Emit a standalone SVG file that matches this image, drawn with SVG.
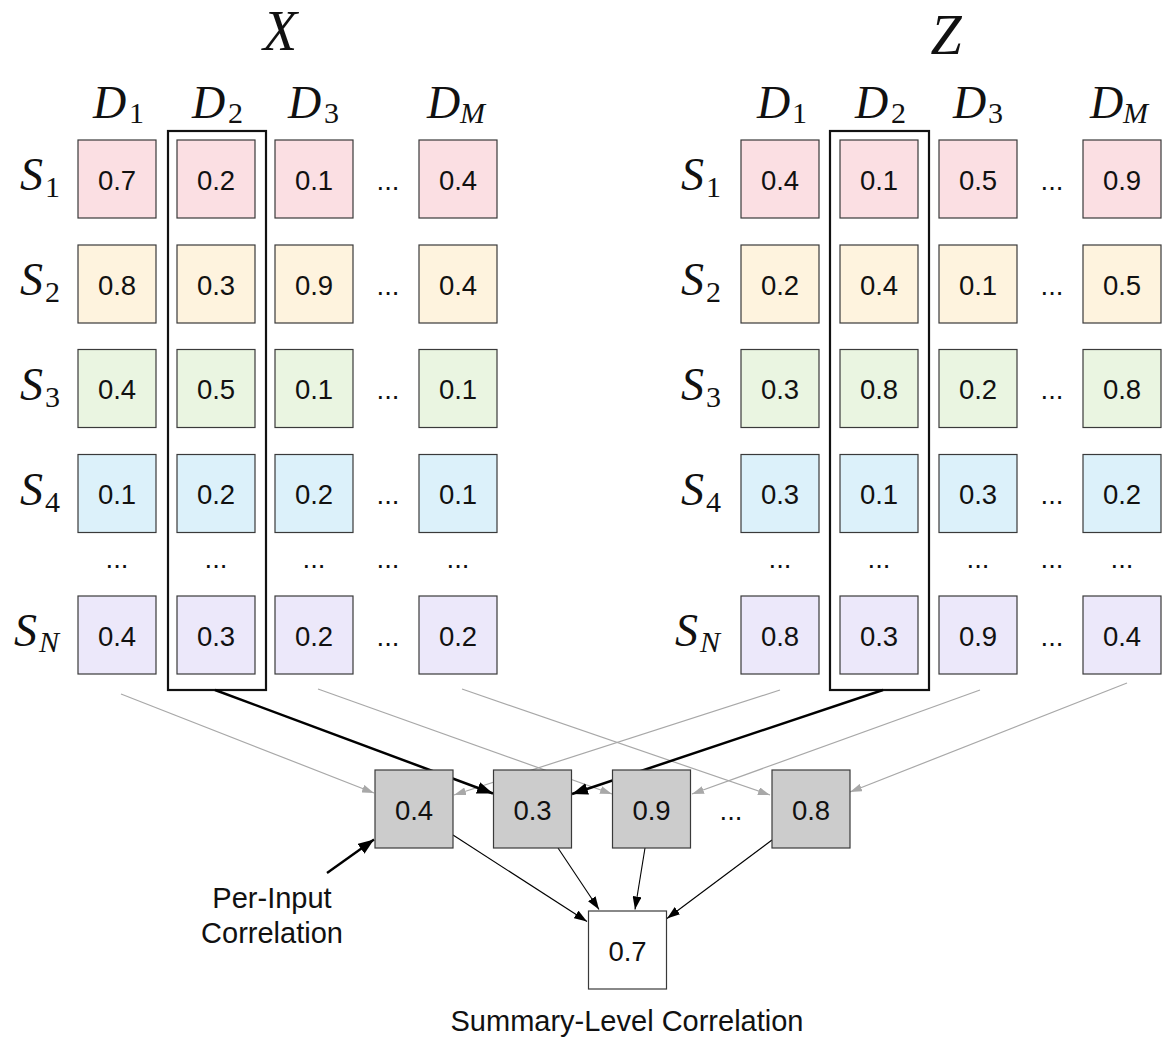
<svg xmlns="http://www.w3.org/2000/svg" width="1173" height="1046" viewBox="0 0 1173 1046">
<style>
.c{stroke:#3a3a3a;stroke-width:1.2}
.r1{fill:#fbdfe3}.r2{fill:#fef3de}.r3{fill:#eaf5e1}.r4{fill:#dcf1fa}.rn{fill:#ece8fa}
.g{fill:#cccccc;stroke:#3a3a3a;stroke-width:1.2}
.w{fill:#ffffff;stroke:#3a3a3a;stroke-width:1.2}
.n{font-family:"Liberation Sans",Arial,sans-serif;font-size:27.5px;fill:#111;text-anchor:middle}
.lbl{font-family:"Liberation Sans",Arial,sans-serif;font-size:29px;fill:#111;text-anchor:middle}
.m{font-family:"Liberation Serif","Times New Roman",serif;font-style:italic;font-size:46px;fill:#111}
.big{font-family:"Liberation Serif","Times New Roman",serif;font-style:italic;font-size:56px;fill:#111;text-anchor:middle}
.sub{font-style:normal;font-size:30px}
.subi{font-style:italic;font-size:30px}
.hl{fill:none;stroke:#111;stroke-width:2.2}
.ga{stroke:#a8a8a8;stroke-width:1.2;fill:none}
.ba{stroke:#000;stroke-width:2.5;fill:none}
.ta{stroke:#000;stroke-width:1.1;fill:none}
.pa{stroke:#000;stroke-width:2.4;fill:none}
</style>
<defs>
<marker id="hg" markerUnits="userSpaceOnUse" markerWidth="12" markerHeight="8" refX="12" refY="4" orient="auto"><path d="M0,0 L12,4 L0,8 z" fill="#a8a8a8"/></marker>
<marker id="hb" markerUnits="userSpaceOnUse" markerWidth="17" markerHeight="12" refX="16" refY="6" orient="auto"><path d="M0,0 L16,6 L0,12 z" fill="#000"/></marker>
<marker id="ht" markerUnits="userSpaceOnUse" markerWidth="13" markerHeight="9" refX="13" refY="4.5" orient="auto"><path d="M0,0 L13,4.5 L0,9 z" fill="#000"/></marker>
</defs>
<rect width="1173" height="1046" fill="#ffffff"/>

<!-- Titles -->
<g id="title-x"><text class="big" x="280" y="50">X</text></g>
<g id="title-z"><text class="big" x="946" y="54">Z</text></g>

<!-- Column labels X -->
<g id="x-col-labels">
<text class="m" x="93" y="118">D<tspan class="sub" x="129" y="123">1</tspan></text>
<text class="m" x="192" y="118">D<tspan class="sub" x="228" y="123">2</tspan></text>
<text class="m" x="288" y="118">D<tspan class="sub" x="324" y="123">3</tspan></text>
<text class="m" x="427" y="118">D<tspan class="subi" x="460" y="123">M</tspan></text>
</g>
<g id="z-col-labels">
<text class="m" x="757" y="118">D<tspan class="sub" x="792" y="123">1</tspan></text>
<text class="m" x="855" y="118">D<tspan class="sub" x="891" y="123">2</tspan></text>
<text class="m" x="953" y="118">D<tspan class="sub" x="988" y="123">3</tspan></text>
<text class="m" x="1090" y="118">D<tspan class="subi" x="1123" y="123">M</tspan></text>
</g>

<!-- Row labels -->
<g id="x-row-labels">
<text class="m" x="20" y="190">S<tspan class="sub" x="45" y="197">1</tspan></text>
<text class="m" x="20" y="295">S<tspan class="sub" x="45" y="302">2</tspan></text>
<text class="m" x="20" y="399.5">S<tspan class="sub" x="45" y="406.5">3</tspan></text>
<text class="m" x="20" y="504.5">S<tspan class="sub" x="45" y="511.5">4</tspan></text>
<text class="m" x="14" y="646">S<tspan class="subi" x="39" y="652">N</tspan></text>
</g>
<g id="z-row-labels">
<text class="m" x="681" y="190">S<tspan class="sub" x="706" y="197">1</tspan></text>
<text class="m" x="681" y="295">S<tspan class="sub" x="706" y="302">2</tspan></text>
<text class="m" x="681" y="399.5">S<tspan class="sub" x="706" y="406.5">3</tspan></text>
<text class="m" x="681" y="504.5">S<tspan class="sub" x="706" y="511.5">4</tspan></text>
<text class="m" x="675" y="646">S<tspan class="subi" x="700" y="652">N</tspan></text>
</g>

<!-- X matrix -->
<g id="x-matrix">
<g id="x-s1-d1"><rect class="c r1" x="78" y="140" width="78" height="78"/><text class="n" x="117" y="189.5">0.7</text></g>
<g id="x-s1-d2"><rect class="c r1" x="177" y="140" width="78" height="78"/><text class="n" x="216" y="189.5">0.2</text></g>
<g id="x-s1-d3"><rect class="c r1" x="275" y="140" width="78" height="78"/><text class="n" x="314" y="189.5">0.1</text></g>
<g id="x-s1-dm"><rect class="c r1" x="419" y="140" width="78" height="78"/><text class="n" x="458" y="189.5">0.4</text></g>
<g id="x-s2-d1"><rect class="c r2" x="78" y="245" width="78" height="78"/><text class="n" x="117" y="294.5">0.8</text></g>
<g id="x-s2-d2"><rect class="c r2" x="177" y="245" width="78" height="78"/><text class="n" x="216" y="294.5">0.3</text></g>
<g id="x-s2-d3"><rect class="c r2" x="275" y="245" width="78" height="78"/><text class="n" x="314" y="294.5">0.9</text></g>
<g id="x-s2-dm"><rect class="c r2" x="419" y="245" width="78" height="78"/><text class="n" x="458" y="294.5">0.4</text></g>
<g id="x-s3-d1"><rect class="c r3" x="78" y="349.5" width="78" height="78"/><text class="n" x="117" y="399">0.4</text></g>
<g id="x-s3-d2"><rect class="c r3" x="177" y="349.5" width="78" height="78"/><text class="n" x="216" y="399">0.5</text></g>
<g id="x-s3-d3"><rect class="c r3" x="275" y="349.5" width="78" height="78"/><text class="n" x="314" y="399">0.1</text></g>
<g id="x-s3-dm"><rect class="c r3" x="419" y="349.5" width="78" height="78"/><text class="n" x="458" y="399">0.1</text></g>
<g id="x-s4-d1"><rect class="c r4" x="78" y="454.5" width="78" height="78"/><text class="n" x="117" y="504">0.1</text></g>
<g id="x-s4-d2"><rect class="c r4" x="177" y="454.5" width="78" height="78"/><text class="n" x="216" y="504">0.2</text></g>
<g id="x-s4-d3"><rect class="c r4" x="275" y="454.5" width="78" height="78"/><text class="n" x="314" y="504">0.2</text></g>
<g id="x-s4-dm"><rect class="c r4" x="419" y="454.5" width="78" height="78"/><text class="n" x="458" y="504">0.1</text></g>
<g id="x-sn-d1"><rect class="c rn" x="78" y="596" width="78" height="78"/><text class="n" x="117" y="645.5">0.4</text></g>
<g id="x-sn-d2"><rect class="c rn" x="177" y="596" width="78" height="78"/><text class="n" x="216" y="645.5">0.3</text></g>
<g id="x-sn-d3"><rect class="c rn" x="275" y="596" width="78" height="78"/><text class="n" x="314" y="645.5">0.2</text></g>
<g id="x-sn-dm"><rect class="c rn" x="419" y="596" width="78" height="78"/><text class="n" x="458" y="645.5">0.2</text></g>
<g id="x-dots">
<text class="n" x="388" y="189.5">...</text><text class="n" x="388" y="294.5">...</text><text class="n" x="388" y="399">...</text><text class="n" x="388" y="504">...</text><text class="n" x="388" y="645.5">...</text>
<text class="n" x="117" y="568">...</text><text class="n" x="216" y="568">...</text><text class="n" x="314" y="568">...</text><text class="n" x="388" y="568">...</text><text class="n" x="458" y="568">...</text>
</g>
<rect id="x-highlight" class="hl" x="168" y="131" width="98" height="559"/>
</g>

<!-- Z matrix -->
<g id="z-matrix">
<g id="z-s1-d1"><rect class="c r1" x="741" y="140" width="78" height="78"/><text class="n" x="780" y="189.5">0.4</text></g>
<g id="z-s1-d2"><rect class="c r1" x="840" y="140" width="78" height="78"/><text class="n" x="879" y="189.5">0.1</text></g>
<g id="z-s1-d3"><rect class="c r1" x="939" y="140" width="78" height="78"/><text class="n" x="978" y="189.5">0.5</text></g>
<g id="z-s1-dm"><rect class="c r1" x="1083" y="140" width="78" height="78"/><text class="n" x="1122" y="189.5">0.9</text></g>
<g id="z-s2-d1"><rect class="c r2" x="741" y="245" width="78" height="78"/><text class="n" x="780" y="294.5">0.2</text></g>
<g id="z-s2-d2"><rect class="c r2" x="840" y="245" width="78" height="78"/><text class="n" x="879" y="294.5">0.4</text></g>
<g id="z-s2-d3"><rect class="c r2" x="939" y="245" width="78" height="78"/><text class="n" x="978" y="294.5">0.1</text></g>
<g id="z-s2-dm"><rect class="c r2" x="1083" y="245" width="78" height="78"/><text class="n" x="1122" y="294.5">0.5</text></g>
<g id="z-s3-d1"><rect class="c r3" x="741" y="349.5" width="78" height="78"/><text class="n" x="780" y="399">0.3</text></g>
<g id="z-s3-d2"><rect class="c r3" x="840" y="349.5" width="78" height="78"/><text class="n" x="879" y="399">0.8</text></g>
<g id="z-s3-d3"><rect class="c r3" x="939" y="349.5" width="78" height="78"/><text class="n" x="978" y="399">0.2</text></g>
<g id="z-s3-dm"><rect class="c r3" x="1083" y="349.5" width="78" height="78"/><text class="n" x="1122" y="399">0.8</text></g>
<g id="z-s4-d1"><rect class="c r4" x="741" y="454.5" width="78" height="78"/><text class="n" x="780" y="504">0.3</text></g>
<g id="z-s4-d2"><rect class="c r4" x="840" y="454.5" width="78" height="78"/><text class="n" x="879" y="504">0.1</text></g>
<g id="z-s4-d3"><rect class="c r4" x="939" y="454.5" width="78" height="78"/><text class="n" x="978" y="504">0.3</text></g>
<g id="z-s4-dm"><rect class="c r4" x="1083" y="454.5" width="78" height="78"/><text class="n" x="1122" y="504">0.2</text></g>
<g id="z-sn-d1"><rect class="c rn" x="741" y="596" width="78" height="78"/><text class="n" x="780" y="645.5">0.8</text></g>
<g id="z-sn-d2"><rect class="c rn" x="840" y="596" width="78" height="78"/><text class="n" x="879" y="645.5">0.3</text></g>
<g id="z-sn-d3"><rect class="c rn" x="939" y="596" width="78" height="78"/><text class="n" x="978" y="645.5">0.9</text></g>
<g id="z-sn-dm"><rect class="c rn" x="1083" y="596" width="78" height="78"/><text class="n" x="1122" y="645.5">0.4</text></g>
<g id="z-dots">
<text class="n" x="1052" y="189.5">...</text><text class="n" x="1052" y="294.5">...</text><text class="n" x="1052" y="399">...</text><text class="n" x="1052" y="504">...</text><text class="n" x="1052" y="645.5">...</text>
<text class="n" x="780" y="568">...</text><text class="n" x="879" y="568">...</text><text class="n" x="978" y="568">...</text><text class="n" x="1052" y="568">...</text><text class="n" x="1122" y="568">...</text>
</g>
<rect id="z-highlight" class="hl" x="830" y="131" width="99" height="559"/>
</g>

<!-- Connectors -->
<g id="connectors">
<line class="ga" x1="121" y1="694" x2="374" y2="793" marker-end="url(#hg)"/>
<line class="ga" x1="318" y1="689" x2="612" y2="794" marker-end="url(#hg)"/>
<line class="ga" x1="462" y1="689" x2="770" y2="795" marker-end="url(#hg)"/>
<line class="ga" x1="780" y1="690" x2="454" y2="795" marker-end="url(#hg)"/>
<line class="ga" x1="980" y1="690" x2="692" y2="794" marker-end="url(#hg)"/>
<line class="ga" x1="1127" y1="683" x2="850" y2="792" marker-end="url(#hg)"/>
<line class="ba" x1="215" y1="690" x2="493" y2="793.5" marker-end="url(#hb)"/>
<line class="ba" x1="883" y1="690" x2="572" y2="794" marker-end="url(#hb)"/>
<line class="ta" x1="453" y1="835" x2="587" y2="921.5" marker-end="url(#ht)"/>
<line class="ta" x1="558" y1="848" x2="599" y2="909.5" marker-end="url(#ht)"/>
<line class="ta" x1="645" y1="848" x2="635" y2="909.5" marker-end="url(#ht)"/>
<line class="ta" x1="772" y1="840" x2="667" y2="918.5" marker-end="url(#ht)"/>
<line class="pa" x1="327" y1="873" x2="374" y2="839.5" marker-end="url(#hb)"/>
</g>

<!-- Per-input correlation nodes -->
<g id="corr-1"><rect class="g" x="375" y="770" width="78" height="78"/><text class="n" x="414" y="819.5">0.4</text></g>
<g id="corr-2"><rect class="g" x="493.5" y="770" width="78" height="78"/><text class="n" x="532.5" y="819.5">0.3</text></g>
<g id="corr-3"><rect class="g" x="612.5" y="770" width="78" height="78"/><text class="n" x="651.5" y="819.5">0.9</text></g>
<g id="corr-dots"><text class="n" x="731" y="819.5">...</text></g>
<g id="corr-m"><rect class="g" x="772" y="770" width="78" height="78"/><text class="n" x="811" y="819.5">0.8</text></g>

<!-- Summary node -->
<g id="summary"><rect class="w" x="588.5" y="911" width="78" height="78"/><text class="n" x="627.5" y="960.5">0.7</text></g>

<!-- Labels -->
<g id="label-per-input"><text class="lbl" x="272" y="908">Per-Input</text><text class="lbl" x="272" y="943">Correlation</text></g>
<g id="label-summary"><text class="lbl" x="627" y="1031">Summary-Level Correlation</text></g>
</svg>
